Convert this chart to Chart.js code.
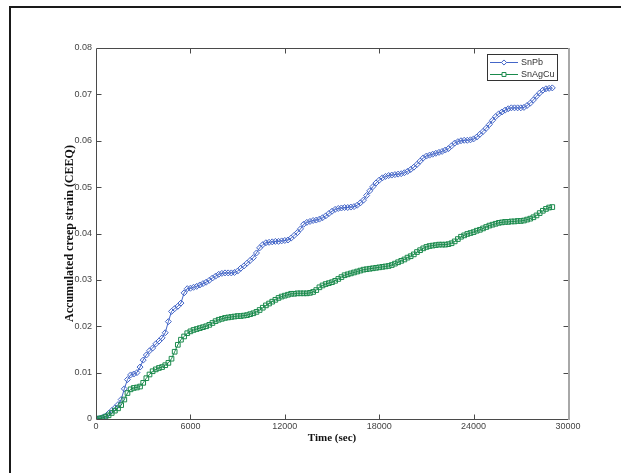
<!DOCTYPE html>
<html>
<head>
<meta charset="utf-8">
<script src="https://cdn.jsdelivr.net/npm/chart.js@4.4.1/dist/chart.umd.min.js"></script>
<style>
  html, body { margin: 0; padding: 0; background: #ffffff; }
  #wrap { width: 621px; height: 473px; }
</style>
</head>
<body>
<div id="wrap"><canvas id="c" width="621" height="473"></canvas></div>
<script>
// Sample times (s)
const timeSec = [
  0, 200, 400, 600, 800, 1000, 1200, 1400, 1600, 1800,
  2000, 2200, 2400, 2600, 2800, 3000, 3200, 3400, 3600, 3800,
  4000, 4200, 4400, 4600, 4800, 5000, 5200, 5400, 5600, 5800,
  6000, 6200, 6400, 6600, 6800, 7000, 7200, 7400, 7600, 7800,
  8000, 8200, 8400, 8600, 8800, 9000, 9200, 9400, 9600, 9800,
  10000, 10200, 10400, 10600, 10800, 11000, 11200, 11400, 11600, 11800,
  12000, 12200, 12400, 12600, 12800, 13000, 13200, 13400, 13600, 13800,
  14000, 14200, 14400, 14600, 14800, 15000, 15200, 15400, 15600, 15800,
  16000, 16200, 16400, 16600, 16800, 17000, 17200, 17400, 17600, 17800,
  18000, 18200, 18400, 18600, 18800, 19000, 19200, 19400, 19600, 19800,
  20000, 20200, 20400, 20600, 20800, 21000, 21200, 21400, 21600, 21800,
  22000, 22200, 22400, 22600, 22800, 23000, 23200, 23400, 23600, 23800,
  24000, 24200, 24400, 24600, 24800, 25000, 25200, 25400, 25600, 25800,
  26000, 26200, 26400, 26600, 26800, 27000, 27200, 27400, 27600, 27800,
  28000, 28200, 28400, 28600, 28800, 29000
];

// Accumulated creep strain, SnPb solder
const snPb = [
  0, 0.0001, 0.0003, 0.0006, 0.0012, 0.0018, 0.0024, 0.0031, 0.0042, 0.0065,
  0.0085, 0.0095, 0.0097, 0.0100, 0.0112, 0.0127, 0.0138, 0.0147, 0.0153, 0.0162,
  0.0168, 0.0175, 0.0186, 0.0210, 0.0232, 0.0238, 0.0243, 0.0250, 0.0272, 0.0281,
  0.0282, 0.0284, 0.0286, 0.0289, 0.0292, 0.0295, 0.0299, 0.0304, 0.0308, 0.0312,
  0.0314, 0.0315, 0.0315, 0.0315, 0.0316, 0.0319, 0.0325, 0.0330, 0.0336, 0.0342,
  0.0348, 0.0358, 0.0369, 0.0376, 0.0380, 0.0381, 0.0382, 0.0383, 0.0383, 0.0384,
  0.0385, 0.0386, 0.0390, 0.0396, 0.0402, 0.0410, 0.0420, 0.0424, 0.0426, 0.0428,
  0.0429, 0.0431, 0.0434, 0.0438, 0.0443, 0.0448, 0.0452, 0.0454, 0.0455, 0.0456,
  0.0456, 0.0457, 0.0458, 0.0461, 0.0466, 0.0472, 0.0482, 0.0492, 0.0501, 0.0509,
  0.0515, 0.0520, 0.0523, 0.0525, 0.0526, 0.0527, 0.0528, 0.0529, 0.0531, 0.0534,
  0.0538, 0.0543, 0.0549, 0.0556, 0.0563, 0.0567, 0.0569, 0.0571, 0.0573, 0.0575,
  0.0577, 0.0580, 0.0583, 0.0589, 0.0595, 0.0598, 0.0600, 0.0601, 0.0601, 0.0602,
  0.0604, 0.0608, 0.0614, 0.0620, 0.0627, 0.0635, 0.0644, 0.0652, 0.0658, 0.0662,
  0.0666, 0.0669, 0.0671, 0.0671, 0.0671, 0.0671, 0.0672, 0.0676, 0.0681, 0.0688,
  0.0696, 0.0703, 0.0709, 0.0712, 0.0713, 0.0714
];

// Accumulated creep strain, SnAgCu solder
const snAgCu = [
  0, 0.0001, 0.0002, 0.0005, 0.0008, 0.0013, 0.0018, 0.0023, 0.0030, 0.0042,
  0.0056, 0.0064, 0.0067, 0.0068, 0.0070, 0.0078, 0.0088, 0.0096, 0.0103, 0.0107,
  0.0110, 0.0112, 0.0116, 0.0121, 0.0130, 0.0145, 0.0160, 0.0171, 0.0178, 0.0185,
  0.0189, 0.0192, 0.0194, 0.0196, 0.0198, 0.0200, 0.0203, 0.0207, 0.0211, 0.0214,
  0.0216, 0.0218, 0.0219, 0.0220, 0.0221, 0.0222, 0.0222, 0.0223, 0.0224, 0.0226,
  0.0228, 0.0231, 0.0235, 0.0240, 0.0245, 0.0249, 0.0253, 0.0257, 0.0261, 0.0264,
  0.0266, 0.0268, 0.0270, 0.0270, 0.0271, 0.0271, 0.0271, 0.0271, 0.0272, 0.0274,
  0.0278, 0.0284, 0.0288, 0.0291, 0.0293, 0.0295, 0.0298, 0.0302, 0.0306, 0.0310,
  0.0312, 0.0314, 0.0316, 0.0318, 0.0320, 0.0322, 0.0323, 0.0324, 0.0325, 0.0326,
  0.0327, 0.0328, 0.0329, 0.0330, 0.0332, 0.0335, 0.0338, 0.0341, 0.0344, 0.0348,
  0.0351, 0.0355, 0.0360, 0.0364, 0.0368, 0.0371, 0.0373, 0.0374, 0.0375, 0.0376,
  0.0376, 0.0376, 0.0377, 0.0379, 0.0383, 0.0388, 0.0393, 0.0396, 0.0399, 0.0401,
  0.0403, 0.0406, 0.0408, 0.0411, 0.0414, 0.0417, 0.0419, 0.0421, 0.0423, 0.0424,
  0.0425, 0.0425, 0.0426, 0.0426, 0.0427, 0.0427, 0.0428, 0.0430, 0.0432, 0.0435,
  0.0439, 0.0444, 0.0449, 0.0453, 0.0456, 0.0457
];

// Axis tick values and their labels
const xTickValues = [0, 6000, 12000, 18000, 24000, 30000];
const xTickLabels = ['0', '6000', '12000', '18000', '24000', '30000'];
const yTickValues = [0, 0.01, 0.02, 0.03, 0.04, 0.05, 0.06, 0.07, 0.08];
const yTickLabels = ['0', '0.01', '0.02', '0.03', '0.04', '0.05', '0.06', '0.07', '0.08'];

const seriesNames = ['SnPb', 'SnAgCu'];

const BLUE = '#4466c8';
const GREEN = '#1a8a4c';
const AXIS_DARK = '#4a4a4a';
const AXIS_LIGHT = '#a8a8a8';
const TICK_FONT = { family: '"Liberation Sans", Arial, sans-serif', size: 9 };

const toPoints = (ys) => timeSec.map((t, i) => ({ x: t, y: ys[i] }));

// Page frame, axes box with inward ticks, and the boxed legend
const framePlugin = {
  id: 'framePlugin',
  beforeDraw(chart) {
    const ctx = chart.ctx;
    ctx.save();
    ctx.fillStyle = '#ffffff';
    ctx.fillRect(0, 0, chart.width, chart.height);
    ctx.strokeStyle = '#1a1a1a';
    ctx.lineWidth = 2;
    ctx.beginPath();
    ctx.moveTo(chart.width, 7);
    ctx.lineTo(10, 7);
    ctx.lineTo(10, chart.height);
    ctx.stroke();
    ctx.restore();
  },
  afterDatasetsDraw(chart) {
    const { ctx, chartArea: a, scales } = chart;
    const xs = scales.x, ys = scales.y;
    const L = Math.round(a.left) + 0.5, R = Math.round(a.right) + 0.5;
    const T = Math.round(a.top) + 0.5, B = Math.round(a.bottom) + 0.5;
    const tl = 5;
    ctx.save();
    ctx.lineWidth = 1;
    ctx.strokeStyle = AXIS_DARK;
    ctx.beginPath();
    xTickValues.forEach(v => {
      const px = Math.round(xs.getPixelForValue(v)) + 0.5;
      if (px <= L + 1 || px >= R - 1) return;
      ctx.moveTo(px, B); ctx.lineTo(px, B - tl);
      ctx.moveTo(px, T); ctx.lineTo(px, T + tl);
    });
    yTickValues.forEach(v => {
      const py = Math.round(ys.getPixelForValue(v)) + 0.5;
      if (py <= T + 1 || py >= B - 1) return;
      ctx.moveTo(L, py); ctx.lineTo(L + tl, py);
      ctx.moveTo(R, py); ctx.lineTo(R - tl, py);
    });
    ctx.stroke();
    // box
    ctx.beginPath();
    ctx.moveTo(R, T); ctx.lineTo(L, T); ctx.lineTo(L, B); ctx.lineTo(R, B);
    ctx.stroke();
    ctx.strokeStyle = AXIS_LIGHT;
    ctx.lineWidth = 2;
    ctx.beginPath();
    ctx.moveTo(R + 0.5, T - 0.5); ctx.lineTo(R + 0.5, B + 0.5);
    ctx.stroke();

    // legend
    const bx = 487.5, by = 54.5, bw = 70, bh = 26;
    ctx.fillStyle = '#ffffff';
    ctx.fillRect(bx, by, bw, bh);
    ctx.strokeStyle = '#333333';
    ctx.lineWidth = 1;
    ctx.strokeRect(bx, by, bw, bh);
    chart.data.datasets.forEach((ds, i) => {
      const y = 62 + i * 12 + 0.5;
      ctx.strokeStyle = ds.borderColor;
      ctx.lineWidth = 1;
      ctx.beginPath();
      ctx.moveTo(490, y); ctx.lineTo(518, y);
      ctx.stroke();
      ctx.fillStyle = '#ffffff';
      ctx.strokeStyle = ds.borderColor;
      Chart.helpers.drawPoint(ctx, {
        pointStyle: ds.pointStyle,
        radius: ds.pointRadius * 0.85,
        borderWidth: 1
      }, 504, y);
      ctx.fillStyle = '#333333';
      ctx.font = '9px "Liberation Sans", Arial, sans-serif';
      ctx.textBaseline = 'middle';
      ctx.textAlign = 'left';
      ctx.fillText(ds.label, 521, y);
    });
    ctx.restore();
  }
};

new Chart(document.getElementById('c'), {
  type: 'line',
  data: {
    datasets: [
      {
        label: seriesNames[0],
        data: toPoints(snPb),
        borderColor: BLUE,
        backgroundColor: 'rgba(0,0,0,0)',
        borderWidth: 1,
        pointStyle: 'rectRot',
        pointRadius: 3,
        pointBorderWidth: 1,
        pointBorderColor: BLUE,
        pointBackgroundColor: 'rgba(255,255,255,0)',
        tension: 0,
        order: 1
      },
      {
        label: seriesNames[1],
        data: toPoints(snAgCu),
        borderColor: GREEN,
        backgroundColor: 'rgba(0,0,0,0)',
        borderWidth: 1,
        pointStyle: 'rect',
        pointRadius: 3.3,
        pointBorderWidth: 1,
        pointBorderColor: GREEN,
        pointBackgroundColor: 'rgba(255,255,255,0)',
        tension: 0,
        order: 0
      }
    ]
  },
  options: {
    responsive: false,
    animation: false,
    devicePixelRatio: 1,
    layout: { padding: { left: 63, top: 48, right: 53, bottom: 28 } },
    plugins: {
      legend: { display: false },
      tooltip: { enabled: false }
    },
    scales: {
      x: {
        type: 'linear',
        min: 0,
        max: 30000,
        afterBuildTicks: (s) => { s.ticks = xTickValues.map(v => ({ value: v })); },
        afterFit: (s) => { s.height = 26; },
        grid: { display: false, drawTicks: false },
        border: { display: false },
        ticks: {
          autoSkip: false,
          maxRotation: 0,
          padding: 2,
          color: '#444444',
          font: TICK_FONT,
          callback: (v) => xTickLabels[xTickValues.indexOf(v)]
        },
        title: {
          display: true,
          text: 'Time (sec)',
          color: '#111111',
          padding: 0,
          font: { family: '"Liberation Serif", "Times New Roman", serif', size: 11, weight: 'bold' }
        }
      },
      y: {
        type: 'linear',
        min: 0,
        max: 0.08,
        afterBuildTicks: (s) => { s.ticks = yTickValues.map(v => ({ value: v })); },
        afterFit: (s) => { s.width = 33; },
        grid: { display: false, drawTicks: false },
        border: { display: false },
        ticks: {
          autoSkip: false,
          padding: 4,
          color: '#444444',
          font: TICK_FONT,
          callback: (v) => yTickLabels[yTickValues.findIndex(t => Math.abs(t - v) < 1e-9)]
        },
        title: {
          display: true,
          text: 'Accumulated creep strain (CEEQ)',
          color: '#111111',
          padding: 0,
          font: { family: '"Liberation Serif", "Times New Roman", serif', size: 12, weight: 'bold' }
        }
      }
    }
  },
  plugins: [framePlugin]
});
</script>
</body>
</html>
